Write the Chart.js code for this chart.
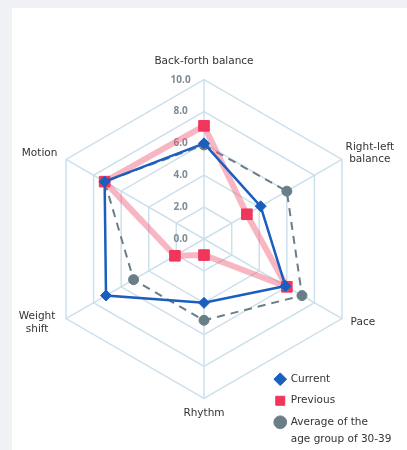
<!DOCTYPE html>
<html>
<head>
<meta charset="utf-8">
<script src="https://cdn.jsdelivr.net/npm/chart.js@4.4.1/dist/chart.umd.min.js"></script>
<style>
  html, body { margin: 0; padding: 0; background: #eff1f4; }
  #card { position: absolute; left: 12px; top: 8px; width: 395px; height: 442px; background: #fff; }
</style>
</head>
<body>
<div id="card"><canvas id="chart" width="395" height="442"></canvas></div>
<script>
// axes, clockwise from the top
var axes = ['Back-forth balance', ['Right-left', 'balance'], 'Pace', 'Rhythm', ['Weight', 'shift'], 'Motion'];
var seriesNames = ['Current', 'Previous', 'Average of the age group of 30-39'];
var current = [6.0, 4.1, 5.9, 4.0, 7.1, 7.2];
var previous = [7.1, 3.1, 6.0, 1.0, 2.1, 7.2];
var average = [5.9, 6.0, 7.1, 5.1, 5.1, 7.2];
var tickStep = 2;
var tickMax = 10;

// trailing blanks push the tick labels left of the axis line
var tickPad = '                  ';

var labelFont = { family: 'DejaVu Sans', size: 10.5 };

// side labels centred on their corner, legend moved to the lower right
var placeBits = {
  id: 'placeBits',
  afterLayout: function (chart) {
    var sc = chart.scales.r;
    sc._pointLabelItems.forEach(function (it, i) {
      var h = it.bottom - it.top;
      var dy;
      if (it.textAlign === 'center') {
        dy = it.top < sc.yCenter ? -2 : -1;
      } else if (it.top + h / 2 < sc.yCenter) {
        dy = h / 2 - 1;
      } else {
        dy = -h / 2 - 1;
      }
      it.y += dy;
      it.top += dy;
      it.bottom += dy;
      // two-line labels get their lines centred on each other
      if (Array.isArray(axes[i]) && it.textAlign !== 'center') {
        it.x = (it.left + it.right) / 2 + (it.textAlign === 'left' ? -5 : -2);
        it.textAlign = 'center';
      }
    });

    var lg = chart.legend;
    lg.left = 252;
    lg.right = lg.left + lg.width;
    lg.top = 355;
    lg.bottom = chart.height;
  }
};

var ctx = document.getElementById('chart').getContext('2d');
var chart = new Chart(ctx, {
  type: 'radar',
  data: {
    labels: axes,
    datasets: [{
      label: seriesNames[0],
      data: current,
      borderColor: '#1a5fc0',
      backgroundColor: '#1a5fc0',
      borderWidth: 2.5,
      pointStyle: 'rectRot',
      pointRadius: 5.5,
      pointBorderWidth: 1,
      pointBackgroundColor: '#1a5fc0',
      pointBorderColor: '#1a5fc0',
      fill: false
    }, {
      label: seriesNames[1],
      data: previous,
      borderColor: 'rgba(240, 90, 120, 0.45)',
      backgroundColor: '#f0365c',
      borderWidth: 6,
      pointStyle: 'rect',
      pointRadius: 7.5,
      pointBorderWidth: 1,
      pointBackgroundColor: '#f0365c',
      pointBorderColor: '#f0365c',
      fill: false
    }, {
      label: seriesNames[2],
      data: average,
      borderColor: '#6a7e88',
      backgroundColor: '#6a7e88',
      borderWidth: 2,
      borderDash: [8, 6],
      pointStyle: 'circle',
      pointRadius: 5,
      pointBorderWidth: 1,
      pointBackgroundColor: '#6a7e88',
      pointBorderColor: '#6a7e88',
      fill: false
    }]
  },
  options: {
    responsive: false,
    animation: false,
    layout: { padding: { top: 32, bottom: 10, left: 3, right: -4 } },
    scales: {
      r: {
        min: -0.01,
        max: tickMax,
        ticks: {
          stepSize: tickStep,
          showLabelBackdrop: false,
          color: '#7f8a93',
          font: { family: 'Open Sans', size: 10, weight: 'bold' },
          callback: function (v) { return Math.abs(v).toFixed(1) + tickPad; }
        },
        grid: { color: '#cde0ec', lineWidth: 1.5 },
        angleLines: { color: '#cde0ec', lineWidth: 1.5 },
        pointLabels: {
          padding: 3,
          color: '#333333',
          font: labelFont
        }
      }
    },
    plugins: {
      tooltip: { enabled: false },
      legend: {
        position: 'chartArea',
        fullSize: false,
        align: 'start',
        labels: {
          usePointStyle: true,
          boxWidth: 11,
          boxHeight: 9,
          padding: 11,
          color: '#333333',
          font: { family: 'DejaVu Sans', size: 10.5, lineHeight: 1.6 },
          generateLabels: function (c) {
            var items = Chart.defaults.plugins.legend.labels.generateLabels(c);
            items.forEach(function (it) {
              it.lineWidth = 1;
              it.strokeStyle = it.fillStyle;
              it.lineDash = [];
            });
            items[2].text = ['Average of the', 'age group of 30-39'];
            return items;
          }
        }
      }
    }
  },
  plugins: [placeBits]
});
</script>
</body>
</html>
